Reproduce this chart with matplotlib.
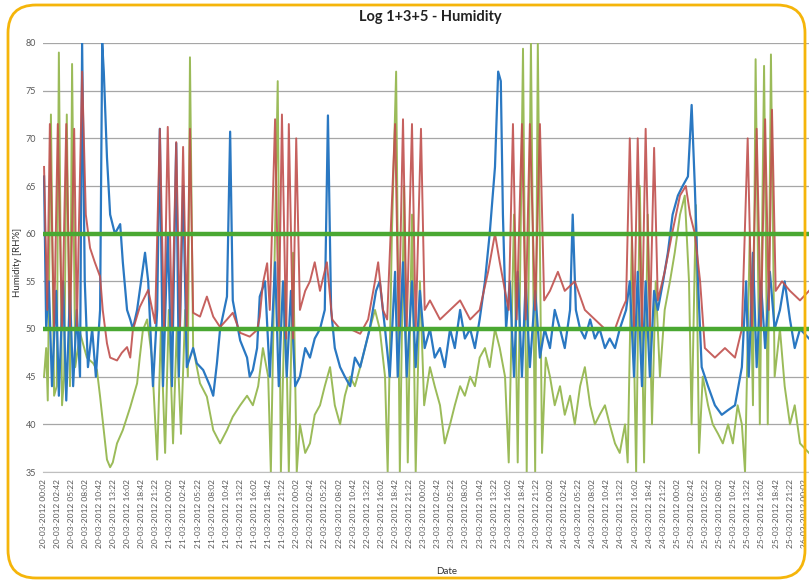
import pandas as pd
import matplotlib
matplotlib.use("Agg")
import matplotlib.pyplot as plt
from matplotlib.patches import FancyBboxPatch

plt.rcParams['font.family'] = ['Lato', 'DejaVu Sans']

# hours since 20-03-2012 00:02 and humidity [RH%]
red_t = [0.2, 0.8, 1.3, 2.1, 2.8, 3.6, 4.4, 5.1, 5.9, 6.4, 7.4, 8.1, 8.9, 9.8, 10.8, 11.3, 12.1, 12.7, 14.0, 14.9,
         15.9, 16.5, 17.0, 18.3, 19.9, 21.2, 22.1, 22.9, 23.6, 24.4, 25.2, 25.9, 26.5, 27.2, 27.8, 28.4, 29.7, 31.0,
         32.2, 33.5, 34.8, 35.9, 37.3, 39.1, 40.5, 41.0, 41.6, 42.4, 42.9, 43.9, 44.6, 45.2, 46.0, 46.5, 47.3, 47.9,
         48.6, 49.6, 50.5, 51.4, 52.4, 53.7, 54.7, 56.2, 58.1, 60.0, 61.5, 62.8, 63.4, 64.3, 65.1, 66.6, 67.3, 68.1,
         68.8, 69.8, 70.5, 71.5, 72.2, 73.2, 75.1, 77.0, 78.9, 80.8, 82.6, 84.2, 85.5, 86.4, 87.4, 88.1, 88.9, 89.6,
         90.6, 91.3, 92.1, 93.1, 94.0, 94.8, 95.9, 97.4, 98.7, 100.6, 102.5, 104.4, 106.3, 108.2, 109.5, 110.3, 111.0,
         111.8, 112.5, 113.3, 114.0, 114.8, 115.6, 116.3, 117.6, 119.0, 120.5, 121.6, 122.4, 123.3, 124.3, 125.2,
         127.1, 129.0, 130.9, 132.2, 133.3, 134.1, 135.0, 135.8, 136.6, 137.3, 137.9, 138.6, 139.8, 141.3, 143.2, 144.9]
red_v = [67, 52, 71.5, 50, 71.5, 50, 71.5, 50, 71, 50, 77, 62, 58.5, 57, 55.5, 52, 48.5, 47, 46.7, 47.5,
         48.1, 47, 49.9, 52.3, 54.1, 50.6, 71, 50, 71.2, 50, 69.6, 50, 69.1, 50, 71, 51.7, 51.3, 53.4,
         51.3, 50.2, 51, 51.7, 49.6, 49.2, 49.9, 51.3, 54.8, 56.9, 52, 72, 50, 72.5, 49, 71.5, 49, 70,
         52, 54, 55, 57, 54, 57, 51, 50, 50, 49.5, 51, 55, 57, 52, 51, 71.5, 50, 72,
         50, 71.5, 50, 71, 52, 53, 51, 52, 53, 51, 52, 56, 60, 57, 54, 52, 71.5, 51,
         71.5, 51, 71.5, 52, 71.5, 53, 54, 56, 54, 55, 52, 51, 50, 50, 52, 53, 70,
         50, 70, 50, 71, 50, 69, 53, 56, 60, 64, 65, 62, 60, 55, 48,
         47, 48, 47, 50, 70, 50, 71, 50, 72, 52, 73, 54, 55, 54, 53, 54]

blue_t = [0.2, 0.6, 1.1, 1.7, 2.5, 3.0, 3.8, 4.4, 5.1, 5.7, 6.4, 7.0, 7.4, 7.9, 8.5, 9.3, 10.0, 10.8, 11.2, 11.5,
          12.1, 12.7, 13.6, 14.6, 15.1, 15.9, 16.5, 17.0, 17.8, 18.3, 19.3, 19.9, 20.8, 21.6, 22.1, 22.7, 23.6, 24.4,
          25.2, 25.7, 26.5, 27.2, 28.4, 29.1, 30.3, 31.6, 32.2, 32.9, 33.5, 34.8, 35.4, 35.9, 37.3, 38.6, 39.1, 39.7,
          40.5, 41.0, 42.0, 42.9, 43.9, 44.6, 45.4, 46.1, 46.9, 47.7, 48.6, 49.6, 50.5, 51.4, 52.4, 53.3, 53.9, 54.5,
          55.2, 56.2, 57.1, 58.1, 59.0, 60.0, 60.9, 61.8, 63.0, 63.7, 64.7, 65.6, 66.6, 67.1, 68.1, 68.8, 69.8, 70.5,
          71.3, 72.2, 73.2, 74.1, 75.1, 76.0, 77.0, 77.9, 78.9, 79.8, 80.8, 81.7, 82.6, 83.6, 84.5, 85.5, 86.1, 86.6,
          87.0, 87.6, 88.3, 89.1, 89.8, 90.6, 91.3, 92.1, 93.1, 94.0, 94.9, 95.9, 96.8, 97.8, 98.7, 99.7, 100.2, 100.8,
          101.6, 102.5, 103.5, 104.4, 105.3, 106.3, 107.2, 108.2, 109.1, 110.3, 111.0, 111.8, 112.5, 113.3, 114.0,
          114.8, 115.6, 116.3, 117.3, 118.2, 119.1, 120.1, 121.0, 122.0, 122.7, 123.3, 123.9, 124.6, 125.8, 127.1,
          128.4, 129.6, 130.9, 132.2, 133.0, 133.5, 134.3, 135.0, 135.8, 136.6, 137.5, 138.4, 139.4, 140.3, 141.3,
          142.2, 143.2, 144.9]
blue_v = [66, 50, 55, 44, 54, 43, 55, 42.5, 54, 44, 52, 45, 80, 55, 46, 50, 45, 52, 80, 77,
          68, 62, 60, 61, 57, 52, 51, 50, 52, 54, 58, 55, 44, 52, 71, 44, 60, 44,
          69.5, 45, 65, 46, 48, 46.4, 45.7, 44, 43, 46.4, 50, 53.4, 70.7, 53, 48.8, 47, 45, 45.7,
          48, 53.4, 55, 45, 57, 44, 55, 45, 54, 44, 45, 48, 47, 49, 50, 52, 72.4, 52,
          48, 46, 45, 44, 47, 46, 48, 50, 54, 55, 50, 45, 56, 45, 57, 45, 55, 46,
          54, 48, 50, 47, 48, 46, 50, 48, 52, 49, 50, 48, 51, 55, 60, 67, 77, 76,
          62, 50, 55, 45, 56, 45, 55, 46, 54, 47, 50, 48, 52, 50, 48, 52, 62, 52,
          50, 49, 51, 49, 50, 48, 49, 48, 50, 52, 55, 45, 56, 44, 55,
          45, 54, 52, 55, 58, 62, 64, 65, 66, 73.5, 65, 55, 46, 44, 42,
          41, 41.5, 42, 46, 55, 45, 58, 46, 55, 48, 56, 50, 52, 55, 51,
          48, 50, 49]

green_t = [0.2, 0.6, 0.9, 1.5, 2.1, 2.6, 3.0, 3.6, 4.0, 4.5, 5.1, 5.5, 6.1, 7.0, 8.3, 9.5, 10.2, 10.8, 11.3, 12.1,
           12.7, 13.2, 14.0, 15.1, 16.5, 17.8, 18.3, 18.9, 19.7, 20.6, 21.6, 22.3, 23.1, 23.8, 24.6, 25.3, 26.1, 26.9,
           27.4, 27.8, 28.4, 29.7, 31.0, 32.2, 33.5, 34.8, 35.9, 37.3, 38.6, 39.7, 40.7, 41.6, 42.6, 43.1, 43.9, 44.4,
           45.0, 45.8, 46.5, 47.3, 48.0, 48.6, 49.6, 50.5, 51.4, 52.4, 53.3, 54.3, 55.2, 56.2, 57.1, 58.1, 59.0, 60.0,
           60.9, 61.8, 62.8, 63.7, 64.7, 65.2, 66.0, 66.8, 67.5, 68.3, 69.0, 69.8, 70.5, 71.3, 72.1, 73.2, 74.1, 75.1,
           76.0, 77.0, 77.9, 78.9, 79.8, 80.8, 81.7, 82.6, 83.6, 84.5, 85.5, 86.4, 87.4, 88.1, 89.1, 89.8, 90.8, 91.5,
           92.3, 93.1, 93.6, 94.4, 95.1, 95.9, 96.8, 97.8, 98.7, 99.7, 100.6, 101.6, 102.5, 103.5, 104.4, 105.3, 106.3,
           107.2, 108.2, 109.1, 110.1, 110.6, 111.4, 112.2, 112.9, 113.7, 114.4, 115.2, 115.9, 116.7, 117.6, 118.6,
           119.5, 120.5, 121.4, 122.2, 122.7, 123.5, 124.1, 124.8, 125.8, 126.7, 127.7, 128.6, 129.6, 130.5, 131.4,
           132.2, 132.8, 133.7, 134.3, 134.8, 135.6, 136.4, 137.1, 137.7, 138.4, 139.4, 140.3, 141.3, 142.2, 143.2,
           144.9]
green_v = [45, 48, 42.5, 72.5, 43, 44, 79, 42, 45, 72.5, 44, 77.8, 46, 49.6, 47, 46.4, 45.7, 42.9, 40.4, 36.3,
           35.5, 36, 38, 39.4, 41.8, 44.3, 47, 49.9, 51, 47, 36.3, 50, 37, 52, 38, 50, 39, 52,
           45, 78.5, 48, 44.3, 42.9, 39.4, 38, 39.4, 40.8, 42, 43, 42, 44, 48, 45, 35, 60, 76,
           35, 55, 35, 58, 35, 40, 37, 38, 41, 42, 44, 46, 42, 40, 43, 45, 44, 46,
           48, 50, 52, 50, 45, 35, 60, 77, 35, 65, 36, 62, 35, 55, 42, 46, 44, 42,
           38, 40, 42, 44, 43, 45, 44, 47, 48, 46, 50, 48, 45, 36, 62, 36, 79.4, 35,
           80, 35, 80, 37, 47, 45, 42, 44, 41, 43, 40, 44, 46, 42, 40, 41, 42,
           40, 38, 37, 40, 36, 60, 35, 65, 36, 62, 40, 55, 45, 52, 55,
           58, 62, 64, 55, 40, 63, 37, 45, 42, 40, 39, 38, 40, 38, 42,
           40, 35, 60, 42, 78.3, 40, 77.6, 40, 78.8, 45, 50, 44, 40, 42, 38,
           37]

limits = [60, 50]
yticks = [35, 40, 45, 50, 55, 60, 65, 70, 75, 80]
tick_times = pd.date_range('2012-03-20 00:02', periods=55, freq='160min')
tick_labels = list(tick_times.strftime('%d-%m-%Y %H:%M'))
tick_hours = [(t - tick_times[0]).total_seconds() / 3600 for t in tick_times]

fig = plt.figure(figsize=(8.09, 5.82), dpi=100)
ax = fig.add_axes([43 / 809, 1 - 472 / 582, 1 - 43 / 809, (472 - 43) / 582])

ax.plot(green_t, green_v, color='#9bbb59', lw=1.4)
ax.plot(blue_t, blue_v, color='#2a78c2', lw=1.6)
ax.plot(red_t, red_v, color='#c0504d', lw=1.4, alpha=0.9)
for lim in limits:
    ax.axhline(lim, xmin=0.003, xmax=1, color='#4aa832', lw=3.2, zorder=5)

ax.set_xlim(0, 144.9)
ax.set_ylim(35, 80)
ax.set_yticks(yticks)
ax.set_yticklabels([str(y) for y in yticks], fontsize=6.5, color='#595959')
ax.set_xticks(tick_hours)
ax.set_xticklabels(tick_labels, rotation=90, fontsize=6, color='#595959')
ax.tick_params(length=0, pad=5)
ax.grid(axis='y', color='#a6a6a6', lw=0.9)
ax.set_axisbelow(True)
for s in ['top', 'right', 'left']:
    ax.spines[s].set_visible(False)
ax.spines['bottom'].set_color('#bfbfbf')

fig.text(430 / 809, 1 - 17 / 582, 'Log 1+3+5 - Humidity', ha='center', va='center',
         fontsize=10.5, fontweight='bold', color='#222222')
fig.text(18 / 809, 1 - 262 / 582, 'Humidity [RH%]', rotation=90, ha='center', va='center',
         fontsize=7, color='#333333')
fig.text(447 / 809, 1 - 571 / 582, 'Date', ha='center', va='center', fontsize=7, color='#333333')

# rounded orange frame
ov = fig.add_axes([0, 0, 1, 1], facecolor='none')
ov.set_xlim(0, 809)
ov.set_ylim(582, 0)
ov.axis('off')
ov.add_patch(FancyBboxPatch((8, 5), 797, 573, boxstyle='round,pad=0,rounding_size=28',
                            fill=False, ec='#f5b50a', lw=2))

fig.savefig('out.png', dpi=100)
